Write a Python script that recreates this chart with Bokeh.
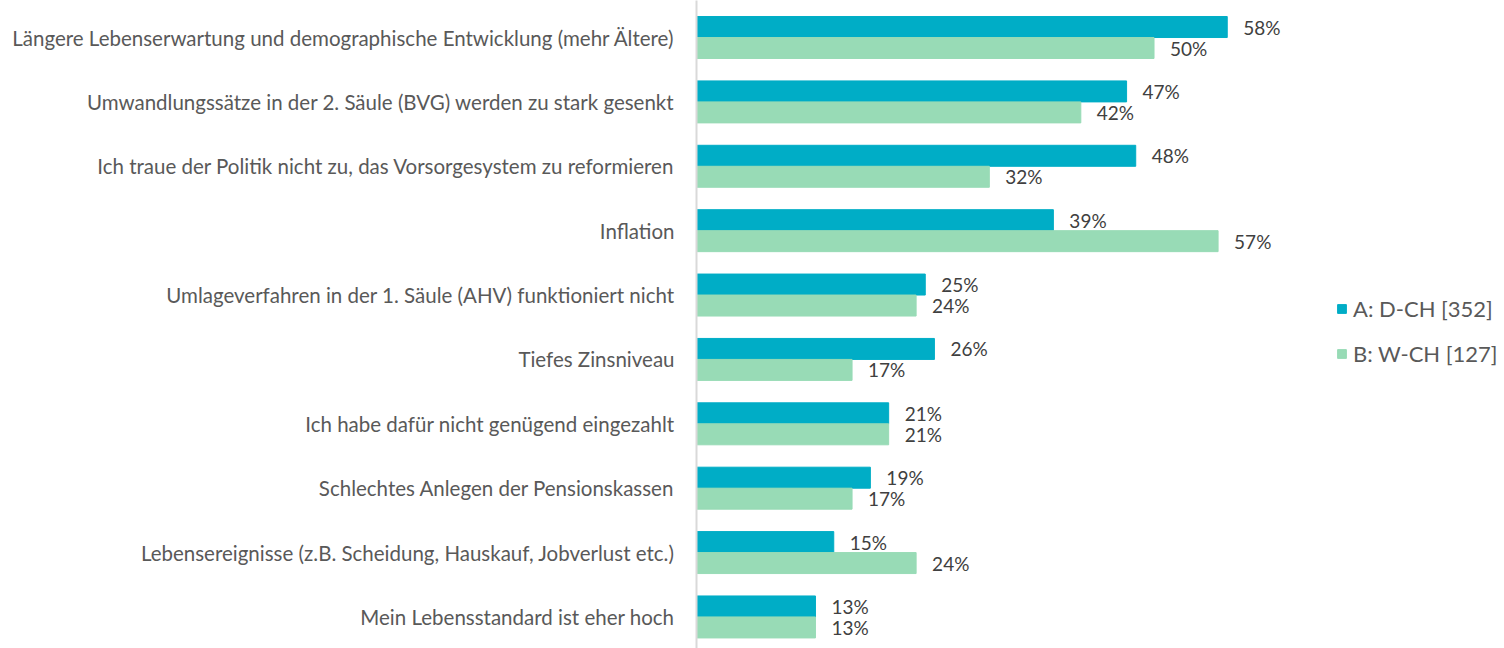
from bokeh.plotting import figure
from bokeh.models import Range1d, FixedTicker, Legend, LegendItem, ColumnDataSource
from bokeh.core.properties import value
from bokeh.embed import file_html
from bokeh.resources import INLINE

categories = [
    "Längere Lebenserwartung und demographische Entwicklung (mehr Ältere)",
    "Umwandlungssätze in der 2. Säule (BVG) werden zu stark gesenkt",
    "Ich traue der Politik nicht zu, das Vorsorgesystem zu reformieren",
    "Inflation",
    "Umlageverfahren in der 1. Säule (AHV) funktioniert nicht",
    "Tiefes Zinsniveau",
    "Ich habe dafür nicht genügend eingezahlt",
    "Schlechtes Anlegen der Pensionskassen",
    "Lebensereignisse (z.B. Scheidung, Hauskauf, Jobverlust etc.)",
    "Mein Lebensstandard ist eher hoch",
]
series_a = [58, 47, 48, 39, 25, 26, 21, 19, 15, 13]
series_b = [50, 42, 32, 57, 24, 17, 21, 17, 24, 13]
series_names = ["A: D-CH [352]", "B: W-CH [127]"]
colors = ["#00ADC6", "#98DBB6"]

FONT = "Lato"
n = len(categories)
idx = list(range(n))
bh = 0.326

p = figure(width=1504, height=648, output_backend="svg", toolbar_location=None,
           x_range=Range1d(0, 88.3), y_range=Range1d(9.49, -0.575),
           min_border_left=696, min_border_right=0, min_border_top=0, min_border_bottom=0)

src_a = ColumnDataSource(dict(y=[i - bh / 2 for i in idx], v=series_a,
                              t=[f"{v}%" for v in series_a]))
src_b = ColumnDataSource(dict(y=[i + bh / 2 for i in idx], v=series_b,
                              t=[f"{v}%" for v in series_b]))

ra = p.hbar(y="y", right="v", left=0, height=bh, source=src_a, color=colors[0])
rb = p.hbar(y="y", right="v", left=0, height=bh, source=src_b, color=colors[1])

for src in (src_a, src_b):
    p.text(x="v", y="y", text="t", source=src, x_offset=16, text_baseline="middle",
           text_align="left", text_font=value(FONT), text_font_size="19px",
           text_color="#404040")

p.xaxis.visible = False
p.xgrid.visible = False
p.ygrid.visible = False
p.outline_line_color = None

ax = p.yaxis[0]
ax.ticker = FixedTicker(ticks=idx)
ax.major_label_overrides = {i: c for i, c in enumerate(categories)}
ax.major_tick_line_color = None
ax.minor_tick_line_color = None
ax.axis_line_color = "#d9d9d9"
ax.axis_line_width = 2
ax.major_label_standoff = 16
ax.major_label_text_font = FONT
ax.major_label_text_font_size = "20.5px"
ax.major_label_text_color = "#595959"

legend = Legend(items=[LegendItem(label=series_names[0], renderers=[ra]),
                       LegendItem(label=series_names[1], renderers=[rb])],
                location=(640, 281), orientation="vertical",
                glyph_width=11, glyph_height=11, spacing=18, padding=0,
                label_standoff=6, label_height=22,
                label_text_font=FONT, label_text_font_size="22px",
                label_text_color="#595959", border_line_color=None,
                background_fill_alpha=0)
p.add_layout(legend)

open("out.html", "w").write(file_html(p, INLINE))
